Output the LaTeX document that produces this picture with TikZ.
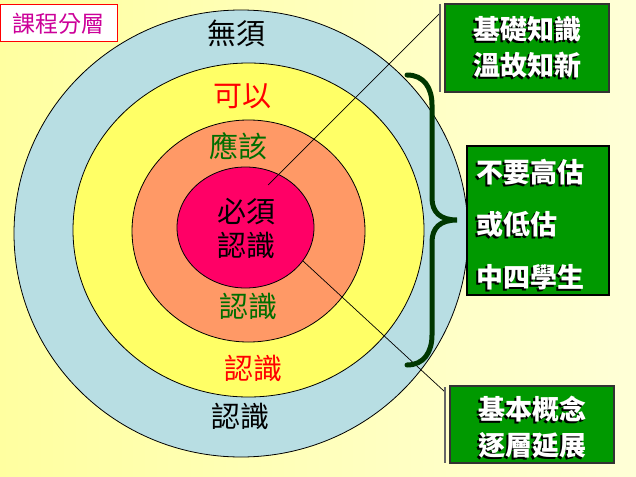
\documentclass[tikz,border=0pt]{standalone}
\usepackage{fontspec}
\newfontfamily\cjk{Noto Sans CJK TC}
\usetikzlibrary{positioning}

\definecolor{bgleft}{RGB}{255,255,160}
\definecolor{bgright}{RGB}{255,255,215}
\definecolor{ringblue}{RGB}{184,222,227}
\definecolor{ringyellow}{RGB}{255,255,102}
\definecolor{ringorange}{RGB}{255,153,102}
\definecolor{ringpink}{RGB}{255,0,102}
\definecolor{leafgreen}{RGB}{0,110,0}
\definecolor{boxgreen}{RGB}{0,153,0}
\definecolor{bracegreen}{RGB}{0,55,0}
\definecolor{titlepink}{RGB}{204,0,153}

\begin{document}
\begin{tikzpicture}[x=1pt, y=-1pt, font=\cjk]
\newcommand{\ringsize}{\fontsize{29pt}{34pt}\selectfont}
\newcommand{\boxsize}{\fontsize{27pt}{36pt}\selectfont}
\newcommand{\shadowed}[3]{%
  \node[boxtext, text=black, xshift=-1.5pt, yshift=-2pt, #2] {#3};
  \node[boxtext, text=white, #2] (#1) {#3};}

\tikzset{ ring/.style={draw=black, line width=0.8pt},
  ringlabel/.style={inner sep=0pt, font=\cjk\ringsize},
  greenbox/.style={draw=black!80, fill=boxgreen, line width=1.2pt},
  boxtext/.style={inner sep=0pt, align=center, font=\cjk\bfseries\boxsize},
  callout/.style={draw=black, line width=0.7pt},
  calloutbar/.style={draw=black!60, line width=1.5pt}
}

\useasboundingbox (0,0) rectangle (636,476);
\shade[left color=bgleft, right color=bgright] (0,0) rectangle (636,476);

% rings
\draw[ring, fill=ringblue] (241,233.5) ellipse [x radius=227, y radius=223.5];
\draw[ring, fill=ringyellow] (248.5,230) ellipse [x radius=175.5, y radius=167];
\draw[ring, fill=ringorange] (248.5,231) ellipse [x radius=116.5, y radius=111];
\draw[ring, fill=ringpink] (245.5,227.5) ellipse [x radius=68.5, y radius=60.5];

\node[ringlabel, text=black] (outerTop) at (236,33.5) {無須};
\node[ringlabel, text=red] (midTop) at (242.5,96.5) {可以};
\node[ringlabel, text=leafgreen] (innerTop) at (238.5,146.5) {應該};
\node[ringlabel, text=black, align=center] (core) at (246,228) {必須\\認識};
\node[ringlabel, text=leafgreen] (innerBot) at (248.5,306.5) {認識};
\node[ringlabel, text=red] (midBot) at (253.5,368.5) {認識};
\node[ringlabel, text=black] (outerBot) at (240.5,416.5) {認識};

% title
\node[draw=red, fill=white, line width=1pt, minimum width=117pt, minimum height=37pt,
  text=titlepink, font=\cjk\fontsize{23pt}{26pt}\selectfont] (title) at (58.5,23.5) {課程分層};

% boxes
\node[greenbox, minimum width=164pt, minimum height=88pt] (boxA) at (527,48) {};
\shadowed{textA}{at={(527,47)}}{基礎知識\\溫故知新}

\node[greenbox, draw=black, line width=2pt, minimum width=142pt, minimum height=149pt] (boxB) at (538,220.5) {};
\shadowed{textB}{anchor=west, align=left, font=\cjk\bfseries\fontsize{27pt}{52.5pt}\selectfont, at={(476,224.5)}}{不要高估\\或低估\\中四學生}

\node[greenbox, minimum width=164pt, minimum height=77pt] (boxC) at (532,424.5) {};
\shadowed{textC}{at={(532,427)}}{基本概念\\逐層延展}

% callouts
\coordinate (tipA) at (268,185);
\coordinate (barAtop) at (440,4);
\coordinate (barAjoin) at (440,13);
\coordinate (barAbot) at (440,92);
\draw[callout] (tipA) -- (barAjoin);
\draw[calloutbar] (barAtop) -- (barAbot);

\coordinate (tipC) at (303,261);
\coordinate (barCtop) at (445,387);
\coordinate (barCjoin) at (445,392);
\coordinate (barCbot) at (445,463);
\draw[callout] (tipC) -- (barCjoin);
\draw[calloutbar] (barCtop) -- (barCbot);

% brace
\draw[bracegreen, line width=5pt, line cap=round]
  (407,75) .. controls (424,75) and (432,88) .. (432,105) -- (432,198)
  .. controls (432,212) and (440,220) .. (457,220)
  .. controls (440,220) and (432,228) .. (432,242) -- (432,335)
  .. controls (432,352) and (424,365) .. (407,365);

\end{tikzpicture}
\end{document}
